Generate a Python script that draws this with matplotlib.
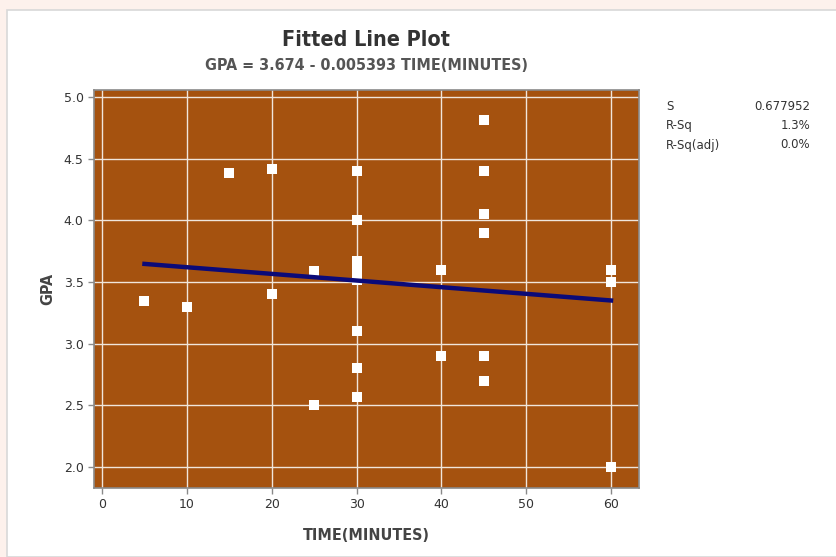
import matplotlib.pyplot as plt
from matplotlib.patches import Rectangle
import numpy as np

# data
time_min = [5, 10, 15, 20, 20, 25, 25,
            30, 30, 30, 30, 30, 30, 30, 30,
            40, 40,
            45, 45, 45, 45, 45, 45,
            60, 60, 60]
gpa = [3.35, 3.30, 4.38, 4.42, 3.40, 3.59, 2.50,
       4.40, 4.00, 3.67, 3.60, 3.52, 3.10, 2.80, 2.57,
       3.60, 2.90,
       4.81, 4.40, 4.05, 3.90, 2.90, 2.70,
       3.60, 3.50, 2.00]

intercept = 3.674
slope = -0.005393
stats_names = ['S', 'R-Sq', 'R-Sq(adj)']
stats_values = ['0.677952', '1.3%', '0.0%']

fig = plt.figure(figsize=(8.37, 5.57), dpi=100)
fig.patch.set_facecolor('#fdf1ec')
fig.patches.append(Rectangle((7/837, 0), 1, 1 - 10/557, transform=fig.transFigure,
                             facecolor='white', edgecolor='#d8d8d8', linewidth=1.2, zorder=-5))

ax = fig.add_axes([94/837, 1 - 488/557, 545/837, 398/557])
ax.set_facecolor('#a5520f')
ax.grid(True, color='#f0e6dc', linewidth=1.0)
ax.set_axisbelow(True)

ax.plot(time_min, gpa, 's', color='white', markersize=7.5, markeredgewidth=0, zorder=3)
xs = np.array([min(time_min), max(time_min)])
ax.plot(xs, intercept + slope * xs, color='#0b0a78', linewidth=3.2, zorder=4)

ax.set_xlim(-0.95, 63.3)
ax.set_ylim(1.83, 5.057)
ax.set_xticks([0, 10, 20, 30, 40, 50, 60])
ax.set_yticks([2.0, 2.5, 3.0, 3.5, 4.0, 4.5, 5.0])
ax.set_yticklabels(['2.0', '2.5', '3.0', '3.5', '4.0', '4.5', '5.0'])
for sp in ax.spines.values():
    sp.set_color('#8a8a8a')
    sp.set_linewidth(1.2)
ax.tick_params(colors='#8a8a8a', labelcolor='#333333', labelsize=9, length=4, width=1)

cond = dict(family='DejaVu Sans', stretch='condensed', fontweight='bold')
ax.set_xlabel('TIME(MINUTES)', fontsize=11.5, color='#444444', labelpad=12, **cond)
ax.set_ylabel('GPA', fontsize=11.5, color='#444444', labelpad=6, **cond)

fig.text(366.5/837, 1 - 40/557, 'Fitted Line Plot', ha='center', va='center',
         fontsize=15.5, color='#333333', **cond)
fig.text(366.5/837, 1 - 65/557, 'GPA = 3.674 - 0.005393 TIME(MINUTES)', ha='center', va='center',
         fontsize=11.5, color='#555555', **cond)

for i, (name, val) in enumerate(zip(stats_names, stats_values)):
    y = 1 - (106 + 19.5 * i) / 557
    fig.text(666/837, y, name, ha='left', va='center', fontsize=8.5, color='#333333')
    fig.text(810/837, y, val, ha='right', va='center', fontsize=8.5, color='#333333')

fig.savefig('out.png', dpi=100, facecolor=fig.get_facecolor())
